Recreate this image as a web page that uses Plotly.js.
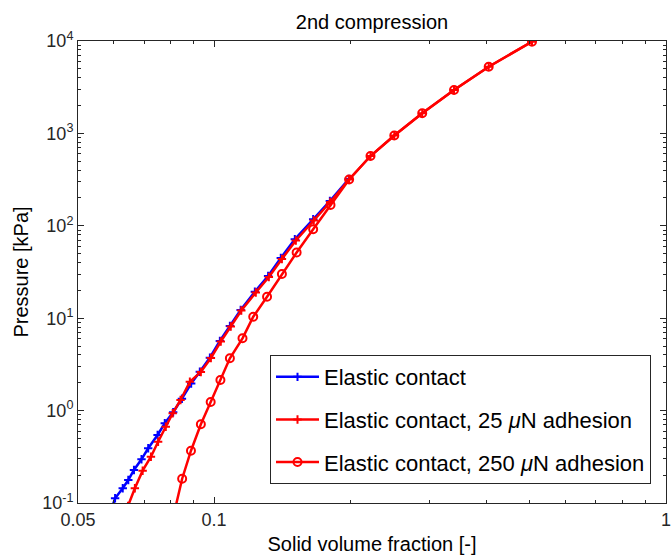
<!DOCTYPE html>
<html>
<head>
<meta charset="utf-8">
<script src="https://cdn.plot.ly/plotly-3.0.1.min.js"></script>
<style>html,body{margin:0;padding:0;background:#fff;}#chart{width:672px;height:560px;}</style>
</head>
<body>
<div id="chart"></div>
<script>
// Elastic contact (blue, plus markers)
const fracElastic = [0.0594, 0.0604, 0.0628, 0.0646, 0.0665, 0.0691, 0.0715, 0.0750, 0.0778, 0.0812, 0.0849, 0.0890, 0.0930, 0.0979, 0.1030, 0.1084, 0.1145, 0.1231, 0.1317, 0.1405, 0.1509, 0.1657, 0.1804, 0.1987];
const pressElastic = [0.0883, 0.1124, 0.1442, 0.1774, 0.2276, 0.2972, 0.3908, 0.5443, 0.7291, 0.9585, 1.345, 1.965, 2.636, 3.737, 5.665, 8.233, 12.27, 19.36, 28.62, 44.83, 71.44, 117.6, 185.5, 321.0];

// Elastic contact, 25 uN adhesion (red, plus markers)
const frac25 = [0.0645, 0.0668, 0.0695, 0.0725, 0.0752, 0.0782, 0.0810, 0.0843, 0.0884, 0.0935, 0.0984, 0.1035, 0.1089, 0.1149, 0.1237, 0.1322, 0.1413, 0.1517, 0.1662, 0.1808, 0.1990, 0.2219, 0.2505, 0.2888, 0.3396, 0.4052, 0.5052];
const press25 = [0.0928, 0.1442, 0.2237, 0.3171, 0.4607, 0.6696, 0.9350, 1.302, 2.055, 2.617, 3.709, 5.595, 8.132, 12.12, 18.97, 27.92, 43.73, 69.33, 114.1, 181.0, 317, 569, 949, 1651, 2950, 5270, 9826];

// Elastic contact, 250 uN adhesion (red, circle markers)
const frac250 = [0.0817, 0.0850, 0.0889, 0.0935, 0.0983, 0.1033, 0.1084, 0.1156, 0.1221, 0.1310, 0.1413, 0.1523, 0.1657, 0.1810, 0.1990, 0.2219, 0.2505, 0.2888, 0.3396, 0.4052, 0.5052];
const press250 = [0.0799, 0.1832, 0.3681, 0.711, 1.239, 2.143, 3.683, 6.06, 10.38, 17.09, 30.1, 51.4, 91.6, 168, 317, 569, 949, 1651, 2950, 5270, 9826];

const seriesNames = ['Elastic contact', 'Elastic contact, 25 <i>μ</i>N adhesion', 'Elastic contact, 250 <i>μ</i>N adhesion'];
const xTickVals = [0.05, 0.1, 1];
const xTickText = ['0.05', '0.1', '1'];
const yTickVals = [0.1, 1, 10, 100, 1000, 10000];
const yTickText = ['10<sup>-1</sup>', '10<sup>0</sup>', '10<sup>1</sup>', '10<sup>2</sup>', '10<sup>3</sup>', '10<sup>4</sup>'];

const xMinor = [];
for (let d = 0.01; d < 1; d *= 10) for (let k = 2; k <= 9; k++) { const v = +(k * d).toPrecision(3); if (v > 0.05 && v < 1 && v !== 0.1) xMinor.push(v); }
const yMinor = [];
for (let d = 0.1; d < 10000; d *= 10) for (let k = 2; k <= 9; k++) yMinor.push(+(k * d).toPrecision(3));

const FONT = '"Liberation Sans", Arial, Helvetica, sans-serif';
const BLUE = '#0000ff', RED = '#ff0000';

const traces = [
  {x: fracElastic, y: pressElastic, name: seriesNames[0], legendgroup: 'a', mode: 'lines+markers',
   line: {color: BLUE, width: 2.5},
   marker: {symbol: 'cross-thin-open', size: 6, color: BLUE, line: {color: BLUE, width: 2}}},
  {x: frac25, y: press25, name: seriesNames[1], legendgroup: 'b', mode: 'lines+markers',
   line: {color: RED, width: 2.5},
   marker: {symbol: 'cross-thin-open', size: 6, color: RED, line: {color: RED, width: 2}}},
  {x: frac250, y: press250, name: seriesNames[2], legendgroup: 'c', mode: 'lines+markers',
   line: {color: RED, width: 2.5},
   marker: {symbol: 'circle-open', size: 8, color: RED, line: {color: RED, width: 2}}}
];

const axisCommon = {
  type: 'log', showgrid: false, zeroline: false, showline: true, linecolor: '#262626', linewidth: 1,
  mirror: 'ticks', ticks: 'inside', ticklen: 6, tickcolor: '#262626', tickwidth: 1,
  tickfont: {family: FONT, size: 18, color: '#262626'}
};

const layout = {
  width: 672, height: 560,
  paper_bgcolor: '#fff', plot_bgcolor: '#fff',
  margin: {l: 78, r: 6, t: 41, b: 57},
  showlegend: true,
  title: {text: '2nd compression', font: {family: FONT, size: 20, color: '#000'}, x: 0.5, xref: 'paper', xanchor: 'center', y: 1 - 22 / 560, yanchor: 'middle'},
  xaxis: Object.assign({}, axisCommon, {
    range: [Math.log10(0.05), 0], tickmode: 'array', tickvals: xTickVals, ticktext: xTickText,
    minor: {tickmode: 'array', tickvals: xMinor, ticks: 'inside', ticklen: 3, tickcolor: '#262626'},
    title: {text: 'Solid volume fraction [-]', font: {family: FONT, size: 20, color: '#000'}, standoff: 8}
  }),
  yaxis: Object.assign({}, axisCommon, {
    range: [-1, 4], tickmode: 'array', tickvals: yTickVals, ticktext: yTickText,
    minor: {tickmode: 'array', tickvals: yMinor, ticks: 'inside', ticklen: 3, tickcolor: '#262626'},
    title: {text: 'Pressure [kPa]', font: {family: FONT, size: 20, color: '#000'}, standoff: 8}
  }),
  legend: {
    x: 0.9745, y: 0.041, xanchor: 'right', yanchor: 'bottom',
    bgcolor: '#fff', bordercolor: '#262626', borderwidth: 1,
    font: {family: FONT, size: 22, color: '#000'},
    itemwidth: 43,
    traceorder: 'grouped', tracegroupgap: 11
  }
};

Plotly.newPlot('chart', traces, layout, {displayModeBar: false, staticPlot: true});
</script>
</body>
</html>
